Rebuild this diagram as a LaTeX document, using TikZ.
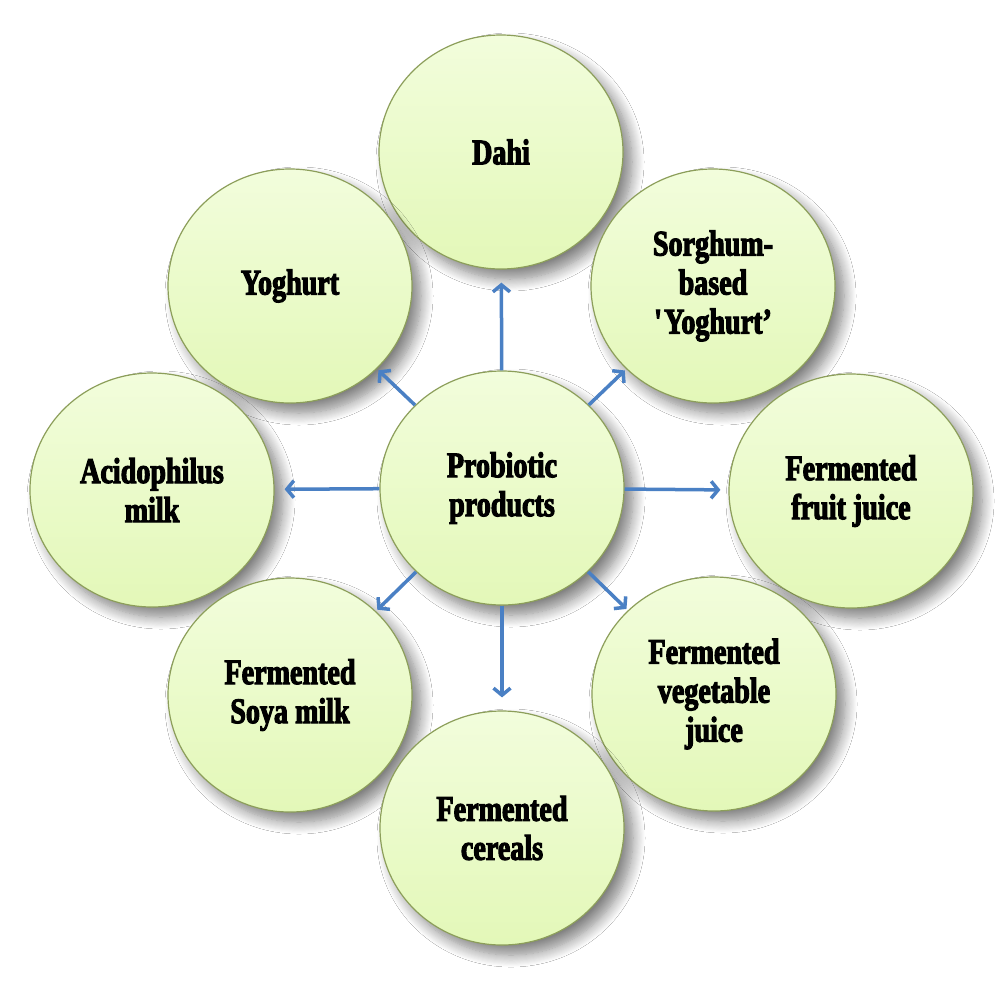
\documentclass[tikz,border=0pt]{standalone}
\usepackage{fontspec}
\setmainfont{Liberation Serif}[FakeStretch=0.78,FakeBold=3]
\usetikzlibrary{shapes.geometric,shadows.blur,arrows.meta}
\definecolor{ctop}{HTML}{F2FDDC}
\definecolor{cbot}{HTML}{E3F8B8}
\definecolor{cedge}{HTML}{8C9E5A}
\definecolor{arrowblue}{HTML}{4A80C4}
\begin{document}
\begin{tikzpicture}[x=1pt,y=-1pt,
  bubble/.style={ellipse, minimum width=244pt, minimum height=234pt, inner sep=0pt,
    draw=cedge, line width=1.2pt, top color=ctop, bottom color=cbot, align=center,
    font=\bfseries\fontsize{36}{39}\selectfont,
    blur shadow={shadow xshift=9pt, shadow yshift=-10pt, shadow blur radius=12pt,
      shadow blur steps=12, shadow opacity=50}},
  arr/.style={draw=arrowblue, line width=3.5pt, -{Straight Barb[length=7pt,width=17pt]}}]
\useasboundingbox (0,0) rectangle (1000,986);
\fill[white] (0,0) rectangle (1000,986);

\node[bubble] (dahi)  at (501,152) {Dahi};
\node[bubble] (yog)   at (290,286) {Yoghurt};
\node[bubble] (sorg)  at (713,286) {Sorghum-\\based\\\textquotesingle Yoghurt’};
\node[bubble] (acid)  at (152,490) {Acidophilus\\milk};
\node[bubble] (fruit) at (851,491) {Fermented\\fruit juice};
\node[bubble] (soya)  at (290,695) {Fermented\\Soya milk};
\node[bubble] (veg)   at (714,694) {Fermented\\vegetable\\juice};
\node[bubble] (cer)   at (502,828) {Fermented\\cereals};
\node[bubble] (c)     at (502,488) {Probiotic\\products};

\draw[arr, shorten >=13pt] (c) -- (dahi);
\draw[arr, shorten >=13pt] (c) -- (cer);
\draw[arr, shorten >=10pt] (c) -- (acid);
\draw[arr, shorten >=8pt]  (c) -- (fruit);
\draw[arr, shorten >=2pt]  (c) -- (yog);
\draw[arr, shorten >=2pt]  (c) -- (sorg);
\draw[arr, shorten >=2pt]  (c) -- (soya);
\draw[arr, shorten >=2pt]  (c) -- (veg);
\end{tikzpicture}
\end{document}
